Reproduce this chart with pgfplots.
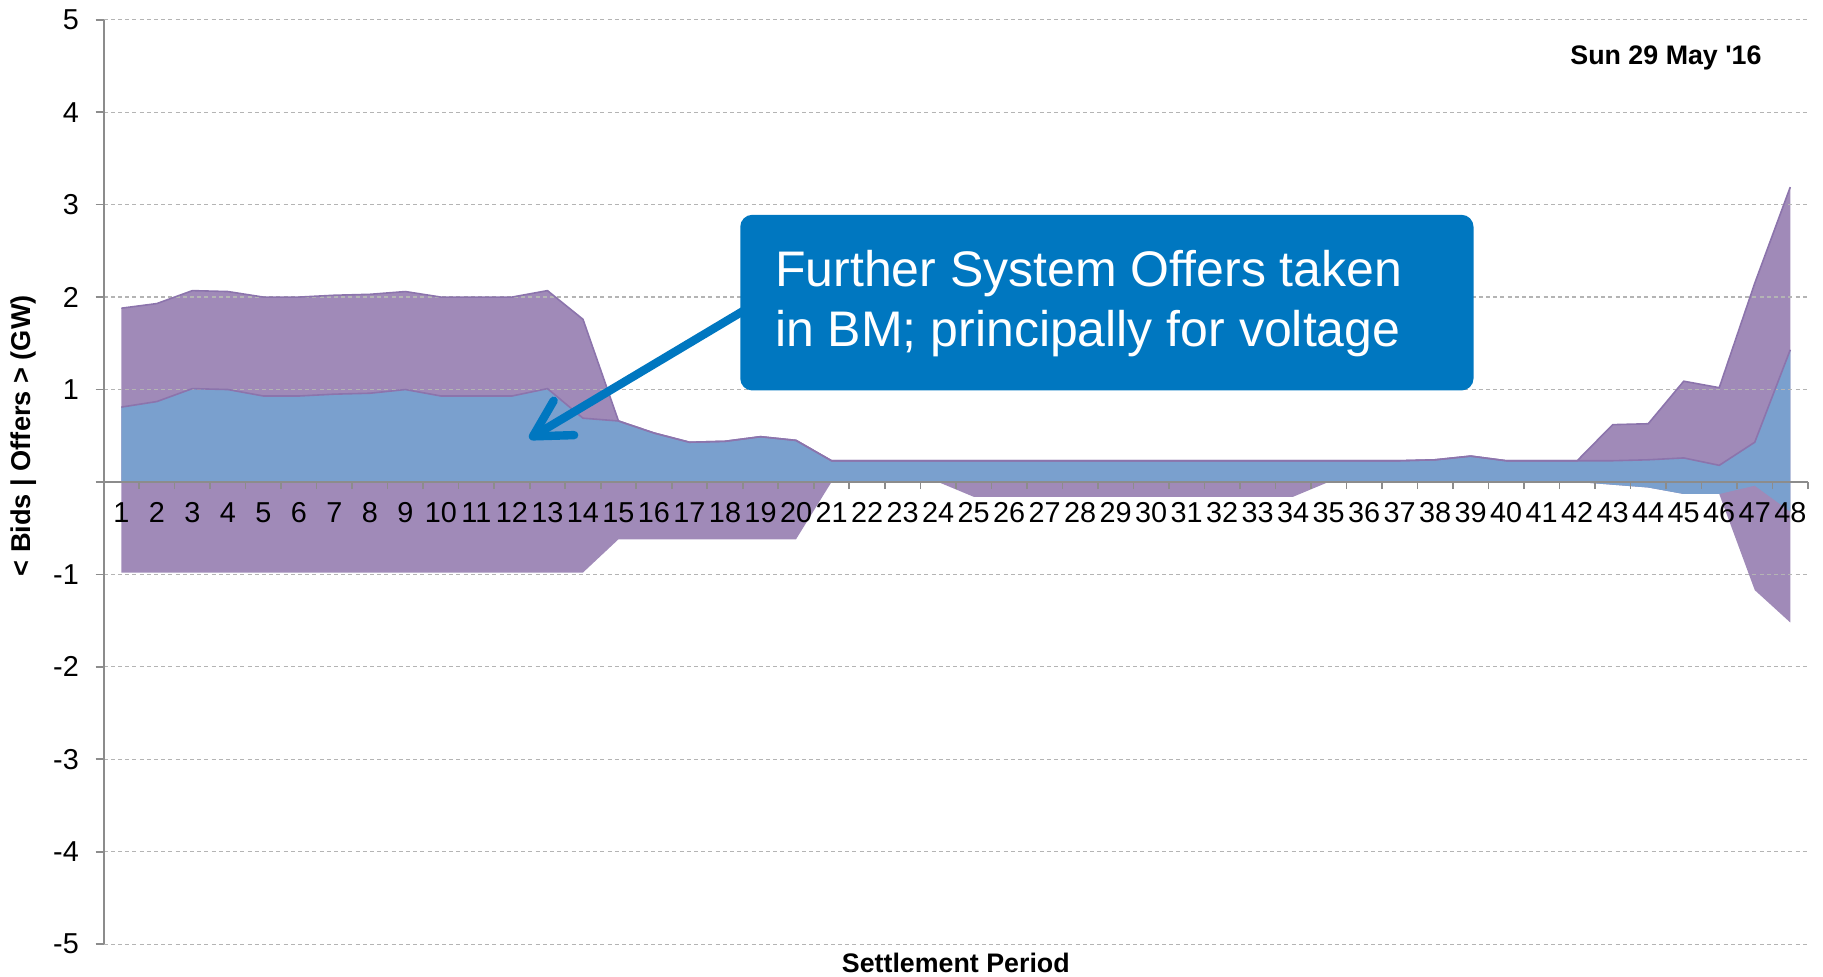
\documentclass[border=0pt]{standalone}
\usepackage{fontspec}
\setmainfont{Liberation Sans}
\usepackage{pgfplots}
\usepackage{pgfplotstable}
\pgfplotsset{compat=1.18}
\usepgfplotslibrary{fillbetween}
\usetikzlibrary{calc,arrows.meta}

\definecolor{offerpurple}{HTML}{A08AB8}
\definecolor{edgepurple}{HTML}{8C74AC}
\definecolor{bidblue}{HTML}{7AA0CE}
\definecolor{callout}{HTML}{0077C0}
\definecolor{gridgray}{HTML}{B4B4B4}
\definecolor{axisgray}{HTML}{8C8C8C}

% settlement period, purple top/bottom, blue top/bottom (GW)
\pgfplotstableread{
x  pt    pb     bt    bb
1  1.88  -0.98  0.81  0
2  1.93  -0.98  0.87  0
3  2.07  -0.98  1.01  0
4  2.06  -0.98  1.00  0
5  2.00  -0.98  0.93  0
6  2.00  -0.98  0.93  0
7  2.02  -0.98  0.95  0
8  2.03  -0.98  0.96  0
9  2.06  -0.98  1.00  0
10 2.00  -0.98  0.93  0
11 2.00  -0.98  0.93  0
12 2.00  -0.98  0.93  0
13 2.07  -0.98  1.01  0
14 1.76  -0.98  0.69  0
15 0.66  -0.62  0.66  0
16 0.53  -0.62  0.53  0
17 0.43  -0.62  0.43  0
18 0.44  -0.62  0.44  0
19 0.49  -0.62  0.49  0
20 0.45  -0.62  0.45  0
21 0.23  0      0.23  0
22 0.23  0      0.23  0
23 0.23  0      0.23  0
24 0.23  0      0.23  0
25 0.23  -0.16  0.23  0
26 0.23  -0.16  0.23  0
27 0.23  -0.16  0.23  0
28 0.23  -0.16  0.23  0
29 0.23  -0.16  0.23  0
30 0.23  -0.16  0.23  0
31 0.23  -0.16  0.23  0
32 0.23  -0.16  0.23  0
33 0.23  -0.16  0.23  0
34 0.23  -0.16  0.23  0
35 0.23  0      0.23  0
36 0.23  0      0.23  0
37 0.23  0      0.23  0
38 0.24  0      0.24  0
39 0.28  0      0.28  0
40 0.23  0      0.23  0
41 0.23  0      0.23  0
42 0.23  0      0.23  0
43 0.62  -0.03  0.23  -0.03
44 0.63  -0.06  0.24  -0.06
45 1.09  -0.13  0.26  -0.13
46 1.02  -0.13  0.18  -0.13
47 2.15  -1.17  0.43  -0.04
48 3.19  -1.52  1.43  -0.32
}\bmdata

\pgfplotsset{
  layers/gridbelow/.define layer set={axis background,axis grid,pre main,main,axis ticks,axis lines,axis tick labels,axis descriptions,axis foreground}{},
}

\begin{document}
\begin{tikzpicture}
\begin{axis}[
  name=ax,
  set layers=gridbelow,
  scale only axis,
  width=426.1pt, height=231.1pt,
  xmin=0.5, xmax=48.5, ymin=-5, ymax=5,
  axis x line=middle, axis y line=left,
  axis line style={-, axisgray, line width=0.5pt},
  xtick={1,...,48},
  extra x ticks={0.5,1.5,...,48.5},
  extra x tick labels={},
  extra x tick style={
    major tick length=1.8pt,
    xtick align=outside,
    major x tick style={draw=axisgray, line width=0.4pt},
  },
  ytick={-5,...,5},
  yticklabels={-5,-4,-3,-2,-1,,1,2,3,4,5},
  tick align=outside,
  major tick length=2pt,
  major x tick style={draw=none},
  major y tick style={axisgray, line width=0.4pt},
  ymajorgrids,
  major y grid style={gridgray, line width=0.3pt, dash pattern=on 1pt off 0.8pt},
  tick label style={font=\fontsize{7.2}{8}\selectfont, inner sep=0pt},
  xticklabel style={anchor=north, yshift=-3pt},
  yticklabel style={anchor=east, xshift=-4pt},
  /pgf/number format/assume math mode=true,
]
  \addplot[draw=none, name path=pt] table[x=x, y=pt] {\bmdata};
  \addplot[draw=none, name path=pb] table[x=x, y=pb] {\bmdata};
  \addplot[draw=none, name path=bt] table[x=x, y=bt] {\bmdata};
  \addplot[draw=none, name path=bb] table[x=x, y=bb] {\bmdata};
  \addplot[fill=offerpurple, draw=none] fill between[of=pt and pb];
  \addplot[fill=bidblue, draw=none] fill between[of=bt and bb];
  \addplot[edgepurple, line width=0.4pt] table[x=x, y=pt] {\bmdata};
  \addplot[edgepurple, line width=0.4pt] table[x=x, y=bt] {\bmdata};

  % callout
  \draw[callout, line width=2.1pt, line cap=round,
        -{Straight Barb[length=9pt, width=10pt, round]}]
        (axis cs:18.6,1.87) -- (axis cs:12.49,0.47);
  \fill[callout, rounded corners=3pt] (axis cs:18.43,0.99) rectangle (axis cs:39.08,2.89);
  \node[anchor=west, inner sep=0pt, align=left, text=white,
        font=\fontsize{12.5}{15}\selectfont] at (axis cs:19.39,1.935)
        {Further System Offers taken\\in BM; principally for voltage};

  \node[font=\fontsize{6.7}{8}\selectfont\bfseries] at (axis cs:44.5,4.59) {Sun 29 May \textquotesingle16};
\end{axis}
\node[font=\fontsize{6.8}{8}\selectfont\bfseries, rotate=90]
  at ($($(ax.south west)!0.55!(ax.north west)$)+(-20.1pt,0)$) {< Bids | Offers > (GW)};
\node[font=\fontsize{6.7}{8}\selectfont\bfseries]
  at ($($(ax.south west)!0.5!(ax.south east)$)+(0,-4.75pt)$) {Settlement Period};
\pgfresetboundingbox
\path[use as bounding box] ($(ax.south west)+(-25.9pt,-8pt)$) rectangle ($(ax.north east)+(3.75pt,4.95pt)$);
\end{tikzpicture}
\end{document}
